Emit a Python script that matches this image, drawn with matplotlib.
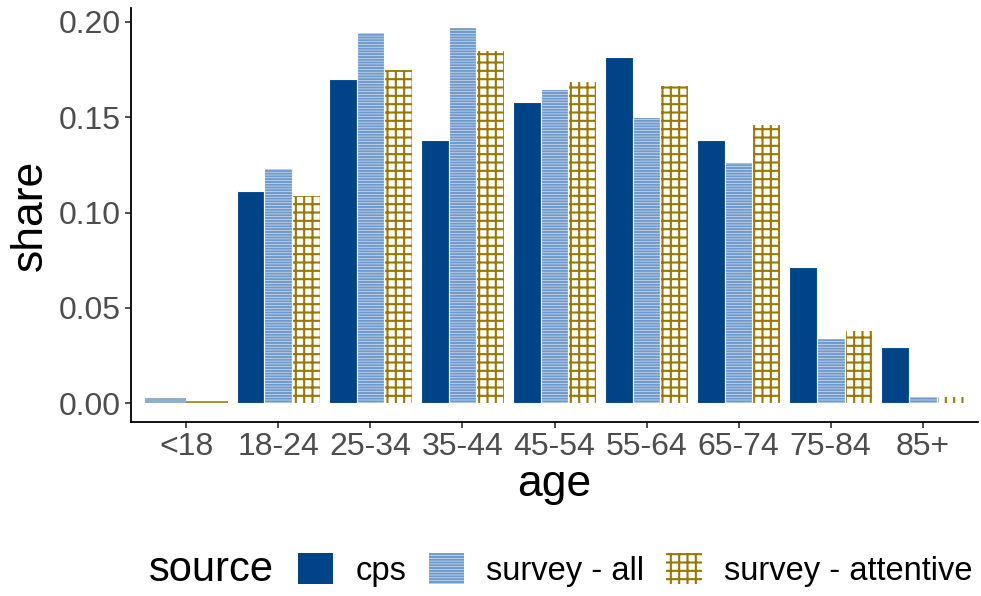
import matplotlib.pyplot as plt
import matplotlib.patches as mpatches
import numpy as np

ages = ["<18", "18-24", "25-34", "35-44", "45-54", "55-64", "65-74", "75-84", "85+"]
cps = [np.nan, 0.1115, 0.1698, 0.138, 0.1578, 0.1818, 0.138, 0.0714, 0.0292]
survey_all = [0.0026, 0.1234, 0.1948, 0.1974, 0.165, 0.150, 0.1266, 0.0344, 0.004]
survey_attentive = [0.0012, 0.1094, 0.1755, 0.1854, 0.169, 0.167, 0.1464, 0.0385, 0.004]

series = [
    ("cps", cps, dict(facecolor="#004488", edgecolor="#004488", hatch=None)),
    ("survey - all", survey_all, dict(facecolor="#d5e1ee", edgecolor="#6f9acb", hatch="------")),
    ("survey - attentive", survey_attentive, dict(facecolor="white", edgecolor="#997700", hatch="++")),
]

plt.rcParams["font.family"] = ["Liberation Sans", "DejaVu Sans"]
plt.rcParams["hatch.linewidth"] = 1.5

fig = plt.figure(figsize=(9.81, 5.96), dpi=100)
ax = fig.add_axes([0.1335, 0.292, 0.8635, 0.6946])

x = np.arange(len(ages))
for i in range(len(ages)):
    present = [s for s in series if not np.isnan(s[1][i])]
    w = 0.9 / len(present)
    for j, (name, vals, style) in enumerate(present):
        pos = x[i] - 0.45 + w * (j + 0.5)
        if vals[i] > 0.003:
            ax.bar(pos, vals[i], width=w, linewidth=0, **style)
            # thin white outline like the ggplot original
            ax.bar(pos, vals[i], width=w, fill=False, edgecolor="white", linewidth=0.8)
        else:
            # very short bars show up as a solid line of the pattern colour
            ax.bar(pos, vals[i], width=w, linewidth=0, color=style["edgecolor"], alpha=0.8)

ax.set_xlim(-0.6, len(ages) - 0.4)
ax.set_ylim(-0.00987, 0.2073)
ax.set_xticks(x)
ax.set_xticklabels(ages)
ax.set_yticks([0, 0.05, 0.10, 0.15, 0.20])
ax.set_yticklabels(["0.00", "0.05", "0.10", "0.15", "0.20"])
ax.tick_params(labelsize=23, labelcolor="#4d4d4d", color="#333333", length=4, width=1.2, pad=3)
for side in ["top", "right"]:
    ax.spines[side].set_visible(False)
for side in ["left", "bottom"]:
    ax.spines[side].set_linewidth(1.3)
ax.set_xlabel("age", fontsize=32, labelpad=2)
ax.set_ylabel("share", fontsize=32, labelpad=6)

handles = [mpatches.Patch(linewidth=0, label=name, **style) for name, vals, style in series]
fig.text(0.152, 0.044, "source", fontsize=30, va="center", ha="left")
fig.legend(handles=handles, loc="center left", bbox_to_anchor=(0.304, 0.044), ncol=3,
           frameon=False, fontsize=23.5, handlelength=1.08, handleheight=1.08,
           handletextpad=0.68, columnspacing=0.68, borderaxespad=0, borderpad=0)

fig.savefig("out.png", dpi=100)
